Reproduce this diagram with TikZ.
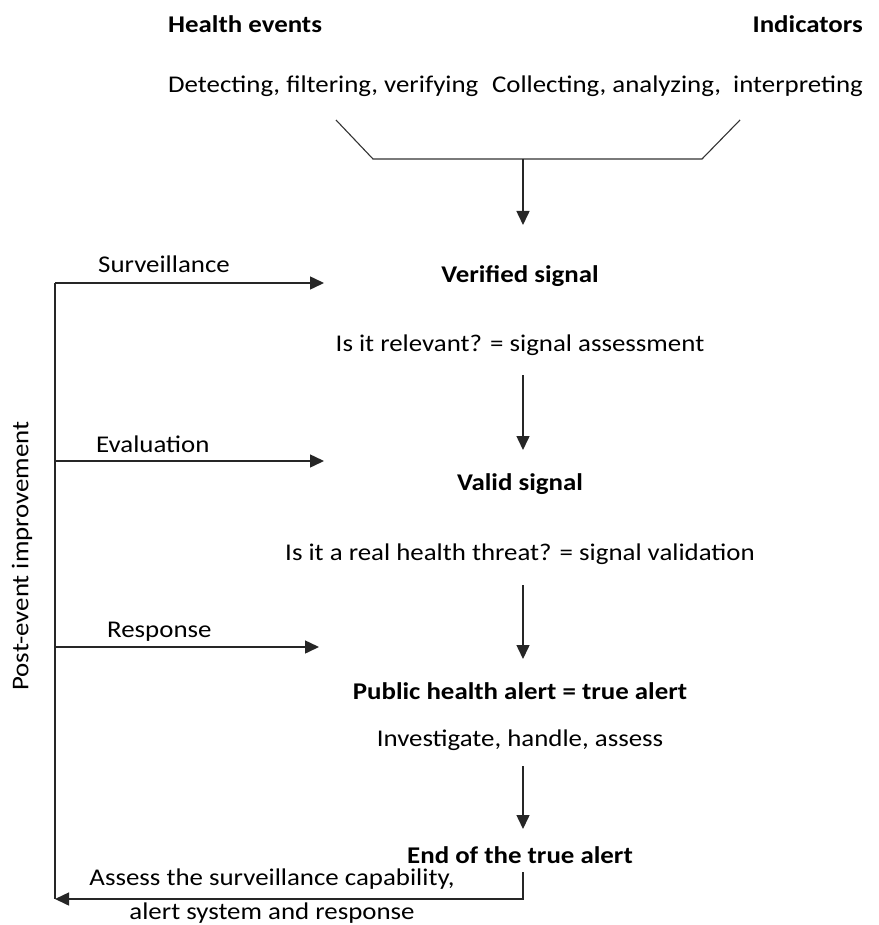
\documentclass[tikz,border=0pt]{standalone}
\usepackage{fontspec}
\setmainfont[FakeStretch=1.12]{Carlito}
\usetikzlibrary{arrows.meta}
\begin{document}
\begin{tikzpicture}[x=1pt,y=-1pt,
  lbl/.style={inner sep=0pt, font=\fontsize{24}{28}\selectfont, text=black},
  head/.style={lbl, font=\fontsize{24}{28}\selectfont\bfseries},
  link/.style={line width=1.5pt, draw=black!85},
  flow/.style={link, -{Triangle[length=14pt,width=13pt]}},
]
\useasboundingbox (0,0) rectangle (878,925);

% top: the two input streams
\node[head, anchor=base west] (events) at (168,33) {Health events};
\node[head, anchor=base east] (indic) at (863,33) {Indicators};
\node[lbl, anchor=base west] (detect) at (168,93) {Detecting, filtering, verifying};
\node[lbl, anchor=base east] (collect) at (863,93) {Collecting, analyzing,\ \ interpreting};

% funnel joining both streams
\coordinate (fl) at (336,120);
\coordinate (flb) at (373,159);
\coordinate (frb) at (702,159);
\coordinate (fr) at (740,120);
\coordinate (fmid) at (523,159);
\draw[line width=1.1pt, draw=black!80] (fl) -- (flb) -- (frb) -- (fr);

% central chain
\node[head, anchor=base] (verified) at (520,282) {Verified signal};
\node[lbl, anchor=base] (relevant) at (520,351) {Is it relevant? = signal assessment};
\node[head, anchor=base] (valid) at (520,490) {Valid signal};
\node[lbl, anchor=base] (threat) at (520,560) {Is it a real health threat? = signal validation};
\node[head, anchor=base] (alert) at (520,699) {Public health alert = true alert};
\node[lbl, anchor=base] (investigate) at (520,746) {Investigate, handle, assess};
\node[head, anchor=base] (endalert) at (520,863) {End of the true alert};

\coordinate (s0) at (523,225);
\coordinate (a1s) at (523,375);
\coordinate (a1e) at (523,450);
\coordinate (a2s) at (523,585);
\coordinate (a2e) at (523,659);
\coordinate (a3s) at (523,766);
\coordinate (a3e) at (523,829);

\draw[flow] (fmid) -- (s0);
\draw[flow] (a1s) -- (a1e);
\draw[flow] (a2s) -- (a2e);
\draw[flow] (a3s) -- (a3e);

% feedback loop on the left
\coordinate (e0) at (523,872);
\coordinate (ecorner) at (523,899);
\coordinate (loopbot) at (55,899);
\coordinate (looptop) at (55,283);
\coordinate (jsur) at (55,283);
\coordinate (jeva) at (55,461);
\coordinate (jres) at (55,647);
\coordinate (tsur) at (324,283);
\coordinate (teva) at (324,461);
\coordinate (tres) at (319,647);

\draw[link] (looptop) -- (loopbot);
\draw[flow] (e0) -- (ecorner) -- (loopbot);
\draw[flow] (jsur) -- (tsur);
\draw[flow] (jeva) -- (teva);
\draw[flow] (jres) -- (tres);

\node[lbl, anchor=base west] (surv) at (98,272) {Surveillance};
\node[lbl, anchor=base west] (eval) at (96,452) {Evaluation};
\node[lbl, anchor=base west] (resp) at (107,637) {Response};
\node[lbl, anchor=base] (assess1) at (272,885) {Assess the surveillance capability,};
\node[lbl, anchor=base] (assess2) at (272,919) {alert system and response};
\node[lbl, rotate=90, anchor=center] (post) at (22,556) {Post-event improvement};
\end{tikzpicture}
\end{document}
